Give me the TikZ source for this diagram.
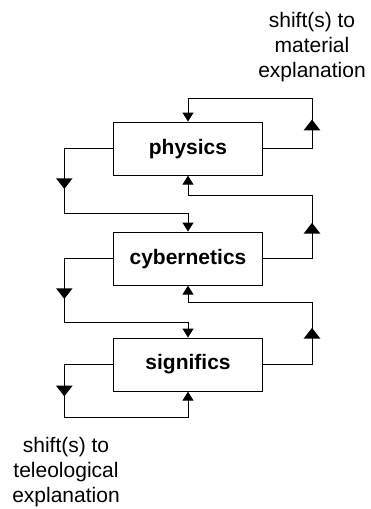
\documentclass[tikz,border=0pt]{standalone}
\usepackage{fontspec}
\setmainfont{Liberation Sans}
\usetikzlibrary{arrows.meta,decorations.markings}

\begin{document}
\begin{tikzpicture}[x=1pt,y=-1pt,
  level/.style={draw,line width=1.1pt,minimum width=149pt,minimum height=53pt,
    inner sep=0pt,font=\fontsize{21}{25}\selectfont\bfseries},
  caption/.style={align=center,inner sep=0pt,font=\fontsize{21}{25}\selectfont},
  link/.style={line width=1pt,-{Triangle[width=11pt,length=9pt]}},
  % a large filled triangle whose tip sits at the given distance along the path
  bigtip/.style={postaction={decorate,decoration={markings,
    mark=at position #1 with {\fill (0pt,0pt) -- (-10.7pt,8.3pt) -- (-10.7pt,-8.3pt) -- cycle;}}}}
]
\useasboundingbox (0,0) rectangle (370,509);

% the three levels
\node[level] (P) at (188,148.6) {physics};
\node[level] (C) at (188,258.6) {cybernetics};
\node[level] (S) at (188,364.6) {significs};

% captions
\node[caption] (tmat) at (312,47.2) {shift(s) to\\material\\explanation};
\node[caption] (ttel) at (66,471.7) {shift(s) to\\teleological\\explanation};

% loops on the right: towards material explanation
\draw[link,bigtip=78pt] (P.east) -| (312,98.3) -| (P.north);
\draw[link,bigtip=84.7pt] (C.east) -| (312,195.7) -| (P.south);
\draw[link,bigtip=85.7pt] (S.east) -| (312,302.3) -| (C.south);

% loops on the left: towards teleological explanation
\draw[link,bigtip=89pt] (P.west) -| (64.3,213.3) -| (C.north);
\draw[link,bigtip=89pt] (C.west) -| (64.3,322.7) -| (S.north);
\draw[link,bigtip=80.4pt] (S.west) -| (64.3,417.3) -| (S.south);
\end{tikzpicture}
\end{document}
